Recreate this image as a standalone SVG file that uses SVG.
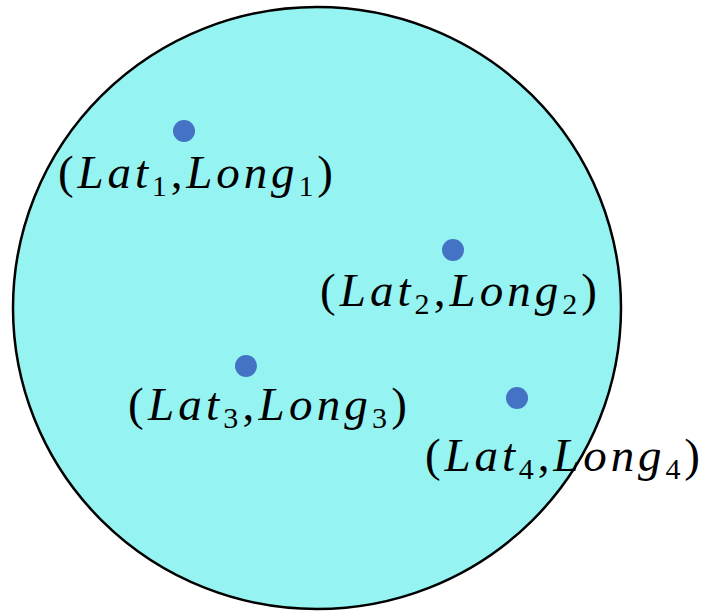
<svg xmlns="http://www.w3.org/2000/svg" width="707" height="613" viewBox="0 0 707 613">
<style>
.lbl{font-family:"Liberation Serif","DejaVu Serif",serif;font-size:47px;fill:#000}
.i{font-style:italic}
.s{font-size:30px}
.dot{fill:#4472C4}
</style>
<rect width="707" height="613" fill="#fff"/>
<g id="region"><ellipse cx="317" cy="308" rx="304" ry="301" fill="#95F4F2" stroke="#000" stroke-width="2.5"/></g>
<g id="p1"><circle class="dot" cx="184" cy="131" r="11"/>
<text class="lbl" x="58" y="188" textLength="275">(<tspan class="i">Lat</tspan><tspan class="s" dy="8">1</tspan><tspan dy="-8">,</tspan><tspan class="i">Long</tspan><tspan class="s" dy="8">1</tspan><tspan dy="-8">)</tspan></text></g>
<g id="p2"><circle class="dot" cx="453" cy="250" r="11"/>
<text class="lbl" x="320" y="306" textLength="277">(<tspan class="i">Lat</tspan><tspan class="s" dy="8">2</tspan><tspan dy="-8">,</tspan><tspan class="i">Long</tspan><tspan class="s" dy="8">2</tspan><tspan dy="-8">)</tspan></text></g>
<g id="p3"><circle class="dot" cx="246" cy="366" r="11"/>
<text class="lbl" x="128" y="420" textLength="279">(<tspan class="i">Lat</tspan><tspan class="s" dy="8">3</tspan><tspan dy="-8">,</tspan><tspan class="i">Long</tspan><tspan class="s" dy="8">3</tspan><tspan dy="-8">)</tspan></text></g>
<g id="p4"><circle class="dot" cx="517" cy="398" r="11"/>
<text class="lbl" x="425" y="471" textLength="275">(<tspan class="i">Lat</tspan><tspan class="s" dy="8">4</tspan><tspan dy="-8">,</tspan><tspan class="i">Long</tspan><tspan class="s" dy="8">4</tspan><tspan dy="-8">)</tspan></text></g>
</svg>
